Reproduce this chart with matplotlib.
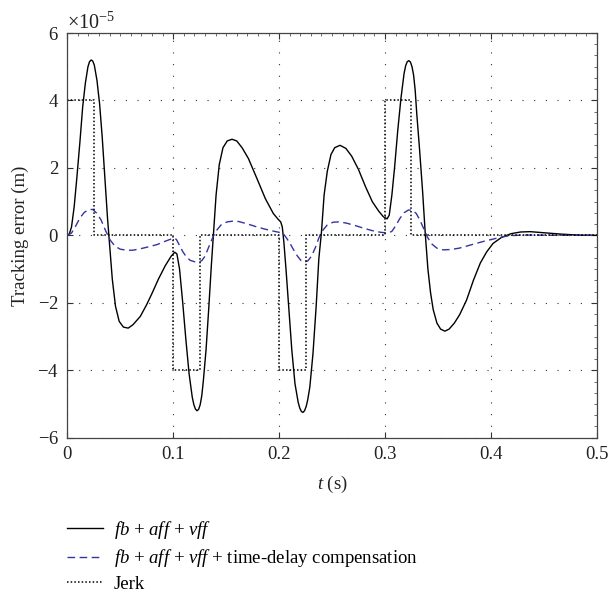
import numpy as np
import matplotlib
matplotlib.use('Agg')
import matplotlib.pyplot as plt
from matplotlib.ticker import MultipleLocator, ScalarFormatter

plt.rcParams['font.family'] = ['Liberation Serif', 'DejaVu Serif']
plt.rcParams['mathtext.fontset'] = 'custom'
plt.rcParams['mathtext.rm'] = 'Liberation Serif'
plt.rcParams['mathtext.it'] = 'Liberation Serif:italic'

# tracking error, fb + aff + vff (units of 1e-5 m)
t_fb = [0, 0.002, 0.004, 0.0065, 0.009, 0.012, 0.0145, 0.017, 0.0195, 0.021,
        0.0225, 0.024, 0.0255, 0.028, 0.0305, 0.033, 0.0355, 0.038, 0.04, 0.0425,
        0.0455, 0.049, 0.053, 0.0575, 0.062, 0.069, 0.075, 0.08, 0.086, 0.0925,
        0.098, 0.1015, 0.1035, 0.106, 0.109, 0.112, 0.115, 0.118, 0.1195, 0.121,
        0.1225, 0.124, 0.1255, 0.127, 0.1285, 0.131, 0.1335, 0.136, 0.138, 0.1405,
        0.1435, 0.147, 0.151, 0.1555, 0.16, 0.165, 0.171, 0.179, 0.187, 0.1945,
        0.199, 0.2015, 0.203, 0.2045, 0.2065, 0.209, 0.212, 0.215, 0.218, 0.2195,
        0.221, 0.2225, 0.224, 0.2255, 0.227, 0.229, 0.232, 0.235, 0.2375, 0.24,
        0.2425, 0.2455, 0.249, 0.2525, 0.2575, 0.263, 0.2685, 0.275, 0.2815, 0.288,
        0.294, 0.2985, 0.302, 0.304, 0.3065, 0.309, 0.312, 0.315, 0.318, 0.3195,
        0.321, 0.3225, 0.324, 0.3255, 0.327, 0.3285, 0.33, 0.3325, 0.3355, 0.338,
        0.3405, 0.343, 0.3455, 0.349, 0.3525, 0.3565, 0.3605, 0.3655, 0.3705, 0.377,
        0.3835, 0.39, 0.396, 0.402, 0.41, 0.419, 0.428, 0.437, 0.449, 0.465,
        0.481, 0.5]
e_fb = [0, 0.05, 0.25, 0.85, 1.7, 2.8, 3.8, 4.5, 5.0, 5.15,
        5.2, 5.17, 5.05, 4.6, 3.9, 2.9, 1.7, 0.5, -0.3, -1.3,
        -2.1, -2.55, -2.72, -2.75, -2.65, -2.4, -2.05, -1.72, -1.3, -0.9,
        -0.62, -0.5, -0.55, -1.0, -2.0, -3.1, -4.1, -4.8, -5.02, -5.15,
        -5.2, -5.16, -5.02, -4.75, -4.3, -3.4, -2.2, -0.9, 0.05, 1.2,
        2.1, 2.6, 2.8, 2.85, 2.8, 2.6, 2.28, 1.69, 1.09, 0.65,
        0.48, 0.4, 0.25, -0.2, -1.0, -2.1, -3.4, -4.4, -4.95, -5.12,
        -5.22, -5.25, -5.2, -5.08, -4.88, -4.5, -3.5, -2.1, -0.7, 0.1,
        1.2, 1.9, 2.4, 2.6, 2.67, 2.58, 2.35, 1.95, 1.45, 1.0,
        0.72, 0.55, 0.49, 0.6, 1.2, 2.0, 3.1, 4.05, 4.8, 5.03,
        5.15, 5.18, 5.14, 5.0, 4.75, 4.3, 3.6, 2.6, 1.3, 0.05,
        -1.0, -1.7, -2.2, -2.6, -2.78, -2.84, -2.78, -2.6, -2.35, -1.92,
        -1.33, -0.82, -0.49, -0.24, -0.06, 0.05, 0.1, 0.11, 0.08, 0.04,
        0.01, 0.0]

# tracking error with time-delay compensation (units of 1e-5 m)
t_td = [0, 0.004, 0.008, 0.012, 0.016, 0.02, 0.024, 0.028, 0.032, 0.036,
        0.0405, 0.045, 0.05, 0.056, 0.062, 0.07, 0.078, 0.085, 0.092, 0.097,
        0.1005, 0.103, 0.106, 0.109, 0.112, 0.116, 0.12, 0.124, 0.127, 0.13,
        0.1335, 0.1375, 0.141, 0.1455, 0.151, 0.156, 0.162, 0.17, 0.178, 0.186,
        0.194, 0.2, 0.204, 0.207, 0.21, 0.2135, 0.217, 0.2205, 0.224, 0.227,
        0.2305, 0.234, 0.2375, 0.241, 0.2455, 0.251, 0.257, 0.264, 0.272, 0.28,
        0.288, 0.296, 0.303, 0.3065, 0.31, 0.314, 0.318, 0.322, 0.3255, 0.3295,
        0.333, 0.3365, 0.34, 0.344, 0.349, 0.355, 0.362, 0.37, 0.378, 0.386,
        0.394, 0.402, 0.41, 0.418, 0.43, 0.45, 0.5]
e_td = [0, 0.07, 0.28, 0.52, 0.68, 0.76, 0.77, 0.65, 0.45, 0.15,
        -0.14, -0.32, -0.41, -0.44, -0.44, -0.39, -0.33, -0.27, -0.18, -0.12,
        -0.08, -0.12, -0.3, -0.48, -0.62, -0.74, -0.78, -0.79, -0.75, -0.62,
        -0.35, -0.05, 0.15, 0.32, 0.4, 0.42, 0.41, 0.34, 0.26, 0.19,
        0.13, 0.09, 0.05, -0.08, -0.22, -0.42, -0.6, -0.74, -0.79, -0.76,
        -0.62, -0.38, -0.08, 0.14, 0.31, 0.39, 0.4, 0.36, 0.29, 0.21,
        0.14, 0.09, 0.07, 0.12, 0.28, 0.5, 0.67, 0.75, 0.75, 0.65,
        0.45, 0.2, -0.05, -0.25, -0.38, -0.43, -0.42, -0.38, -0.31, -0.24,
        -0.17, -0.11, -0.05, -0.01, 0.01, 0.005, 0.0]

# jerk profile (scaled, units of 1e-5)
t_jerk = [0, 0.025, 0.1, 0.125, 0.2, 0.225, 0.3, 0.325, 0.5]
jerk = [4, 0, -4, 0, -4, 0, 4, 0, 0]

labels = [r'$fb$ + $aff$ + $vff$',
          r'$fb$ + $aff$ + $vff$ + time-delay compensation',
          'Jerk']

scale = 1e-5
fig = plt.figure(figsize=(6.09, 5.97), dpi=100)
ax = fig.add_axes([0.1105, 0.2668, 0.8695, 0.6779])

ax.plot(t_fb, np.array(e_fb) * scale, color='black', lw=1.0, label=labels[0])
ax.plot(t_td, np.array(e_td) * scale, color='#3434a0', lw=1.0,
        linestyle=(0, (5.5, 3.2)), label=labels[1])
ax.plot(t_jerk, np.array(jerk) * scale, color='black', lw=1.1,
        linestyle=(0, (1.0, 1.4)), drawstyle='steps-post', label=labels[2])

ax.set_xlim(0, 0.5)
ax.set_ylim(-6e-5, 6e-5)
ax.xaxis.set_major_locator(MultipleLocator(0.1))
ax.yaxis.set_major_locator(MultipleLocator(2e-5))
ax.xaxis.set_minor_locator(MultipleLocator(0.01))
ax.yaxis.set_minor_locator(MultipleLocator(2e-5 / 6))
fmt = ScalarFormatter(useMathText=True)
fmt.set_powerlimits((0, 0))
ax.yaxis.set_major_formatter(fmt)
ax.xaxis.set_major_formatter(plt.FuncFormatter(lambda v, p: '0' if v == 0 else f'{v:g}'))

ax.grid(True, which='major', color='#333333', lw=0.8, linestyle=(0, (1, 9.5)))
ax.tick_params(which='major', direction='in', length=4, width=0.8,
               top=True, right=True, labelsize=13.5, colors='#333333',
               labelcolor='#222222', pad=6)
ax.tick_params(which='minor', direction='in', length=2, width=0.6,
               top=True, right=True, bottom=False, left=False, colors='#555555')
ax.yaxis.get_offset_text().set_fontsize(14.5)
ax.yaxis.get_offset_text().set_color('#222222')
for s in ax.spines.values():
    s.set_color('#444444')
    s.set_linewidth(0.9)

ax.set_xlabel(r'$t$ (s)', fontsize=13.5, color='#222222', labelpad=8)
ax.set_ylabel('Tracking error (m)', fontsize=13.5, color='#222222', labelpad=6)

fig.legend(loc='upper left', bbox_to_anchor=(0.098, 0.144), frameon=False,
           fontsize=13.5, handlelength=1.9, handletextpad=0.6, labelspacing=0.35,
           borderaxespad=0)

fig.savefig('out.png', dpi=100)
